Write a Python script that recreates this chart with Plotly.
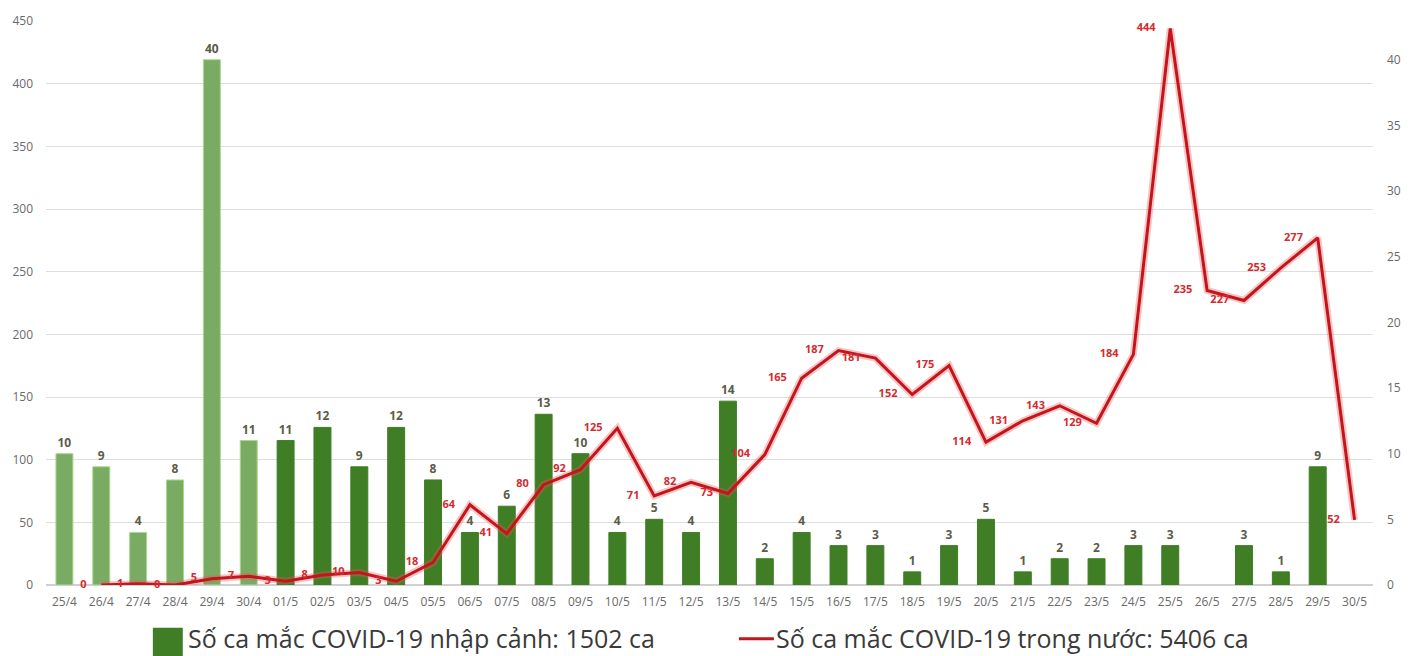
import plotly.graph_objects as go

dates = ["25/4", "26/4", "27/4", "28/4", "29/4", "30/4",
         "01/5", "02/5", "03/5", "04/5", "05/5", "06/5", "07/5", "08/5", "09/5", "10/5",
         "11/5", "12/5", "13/5", "14/5", "15/5", "16/5", "17/5", "18/5", "19/5", "20/5",
         "21/5", "22/5", "23/5", "24/5", "25/5", "26/5", "27/5", "28/5", "29/5", "30/5"]

imported = [10, 9, 4, 8, 40, 11,
            11, 12, 9, 12, 8, 4, 6, 13, 10, 4,
            5, 4, 14, 2, 4, 3, 3, 1, 3, 5,
            1, 2, 2, 3, 3, None, 3, 1, 9, None]

domestic = [None, 0, 1, 0, 5, 7,
            3, 8, 10, 3, 18, 64, 41, 80, 92, 125,
            71, 82, 73, 104, 165, 187, 181, 152, 175, 114,
            131, 143, 129, 184, 444, 235, 227, 253, 277, 52]

legend_imported = "Số ca mắc COVID-19 nhập cảnh: 1502 ca"
legend_domestic = "Số ca mắc COVID-19 trong nước: 5406 ca"

LIGHT = "#7aab62"
DARK = "#3f7e25"
RED = "#c4141c"

W, H = 1413, 656
ML, MR, MT, MB = 44, 40, 18, 71
PW, PH = W - ML - MR, H - MT - MB

def px(x):
    return (x - ML) / PW

def py(y):
    return (H - MB - y) / PH

bar_colors = [LIGHT if d.endswith("/4") else DARK for d in dates]
bar_lines = ["#a8d890" if d.endswith("/4") else DARK for d in dates]
bar_text = ["" if v is None else str(v) for v in imported]
line_text = ["" if v is None else str(v) for v in domestic]

fig = go.Figure()
fig.add_trace(go.Bar(
    x=dates, y=imported, yaxis="y", width=0.46,
    marker=dict(color=bar_colors, line=dict(color=bar_lines, width=1)),
    text=bar_text, textposition="outside", cliponaxis=False,
    textfont=dict(family="Open Sans", size=12, color="#5c5c4a", weight="bold"),
    showlegend=False, name=legend_imported,
))
fig.add_trace(go.Scatter(
    x=dates, y=domestic, yaxis="y2", mode="lines",
    line=dict(color="rgba(235,90,90,0.35)", width=7),
    showlegend=False, hoverinfo="skip",
))
fig.add_trace(go.Scatter(
    x=dates, y=domestic, yaxis="y2", mode="lines+markers+text",
    line=dict(color=RED, width=3),
    marker=dict(size=22, color="rgba(0,0,0,0)"),
    text=line_text, textposition="middle left", cliponaxis=False,
    textfont=dict(family="Open Sans", size=11, color="#d42a2f", weight="bold"),
    showlegend=False, name=legend_domestic,
))

tickfont = dict(family="Open Sans", size=12, color="#6a6a6a")

fig.update_layout(
    width=W, height=H,
    margin=dict(l=ML, r=MR, t=MT, b=MB),
    paper_bgcolor="white", plot_bgcolor="white",
    xaxis=dict(type="category", tickfont=tickfont, showgrid=False,
               range=[-0.5, len(dates) - 0.5], autorange=False,
               showline=False, ticks="", ticklabelstandoff=8),
    yaxis=dict(side="right", range=[0, 42.95], tickvals=[0, 5, 10, 15, 20, 25, 30, 35, 40],
               showgrid=False, zeroline=False, tickfont=tickfont, ticklabelstandoff=13),
    yaxis2=dict(side="left", overlaying="y", range=[0, 450], dtick=50,
                showgrid=True, gridcolor="#dedede", gridwidth=1, zeroline=True,
                zerolinecolor="#d0d0d0", tickfont=tickfont, ticklabelstandoff=12),
    showlegend=False,
)

# Legend drawn below the plot
fig.add_shape(type="rect", xref="paper", yref="paper",
              x0=px(151), x1=px(181), y0=py(628), y1=py(660),
              fillcolor=DARK, line=dict(width=0))
fig.add_annotation(xref="paper", yref="paper", x=px(184), y=py(638),
                   xanchor="left", yanchor="middle", showarrow=False,
                   text=legend_imported,
                   font=dict(family="Open Sans", size=25, color="#3a3a3a"))
fig.add_shape(type="line", xref="paper", yref="paper",
              x0=px(738), x1=px(773), y0=py(639), y1=py(639),
              line=dict(color=RED, width=3))
fig.add_annotation(xref="paper", yref="paper", x=px(773), y=py(638),
                   xanchor="left", yanchor="middle", showarrow=False,
                   text=legend_domestic,
                   font=dict(family="Open Sans", size=25, color="#3a3a3a"))

fig.write_html("out.html")
